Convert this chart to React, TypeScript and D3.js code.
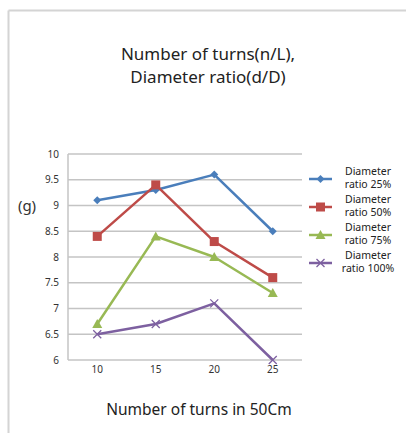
import React from "react";
import * as d3 from "d3";

const categories = ["10", "15", "20", "25"];
const seriesNames = [
  ["Diameter", "ratio 25%"],
  ["Diameter", "ratio 50%"],
  ["Diameter", "ratio 75%"],
  ["Diameter", "ratio 100%"],
];
const ratio25 = [9.1, 9.3, 9.6, 8.5];
const ratio50 = [8.4, 9.4, 8.3, 7.6];
const ratio75 = [6.7, 8.4, 8.0, 7.3];
const ratio100 = [6.5, 6.7, 7.1, 6.0];
const yTicks = [6, 6.5, 7, 7.5, 8, 8.5, 9, 9.5, 10];
const colors = ["#4A7EBB", "#BE4B48", "#98B954", "#7D60A0"];
const markers = ["diamond", "square", "triangle", "x"];

const FONT = "'Noto Sans', 'Open Sans', sans-serif";

function Marker({ type, x, y, color }: { type: string; x: number; y: number; color: string }) {
  if (type === "diamond") {
    const s = 4;
    return <path d={`M${x},${y - s}L${x + s},${y}L${x},${y + s}L${x - s},${y}Z`} fill={color} />;
  }
  if (type === "square") {
    const s = 4.5;
    return <rect x={x - s} y={y - s} width={2 * s} height={2 * s} fill={color} />;
  }
  if (type === "triangle") {
    const s = 5;
    return <path d={`M${x},${y - s}L${x + s},${y + s * 0.8}L${x - s},${y + s * 0.8}Z`} fill={color} />;
  }
  const s = 4;
  return (
    <path
      d={`M${x - s},${y - s}L${x + s},${y + s}M${x - s},${y + s}L${x + s},${y - s}`}
      stroke={color}
      strokeWidth={1.3}
    />
  );
}

export default function App() {
  const W = 406;
  const H = 433;
  const x = d3.scaleBand<string>().domain(categories).range([68, 302]);
  const y = d3.scaleLinear().domain([6, 10]).range([360, 154]);
  const series = [ratio25, ratio50, ratio75, ratio100];
  const line = d3
    .line<number>()
    .x((_, i) => (x(categories[i]) as number) + x.bandwidth() / 2)
    .y((d) => y(d));
  const legendY = [179, 207, 235, 263];

  return (
    <svg
      width={W}
      height={H}
      style={{ position: "absolute", left: 0, top: 0, background: "#fff" }}
      fontFamily={FONT}
    >
      <line x1={8.5} y1={10.5} x2={W} y2={10.5} stroke="#d4d4d4" strokeWidth={2} />
      <line x1={8.5} y1={10.5} x2={8.5} y2={H} stroke="#d4d4d4" strokeWidth={2} />

      <text x={208} y={60} textAnchor="middle" fontSize={17} fill="#222">
        Number of turns(n/L),
      </text>
      <text x={208} y={83} textAnchor="middle" fontSize={17} fill="#222">
        Diameter ratio(d/D)
      </text>

      {yTicks.map((t) => (
        <g key={t}>
          <line x1={68} x2={302} y1={y(t)} y2={y(t)} stroke="#c4c4c4" strokeWidth={1.5} />
          <text x={59} y={y(t) + 3.5} textAnchor="end" fontSize={10} fill="#333">
            {t}
          </text>
        </g>
      ))}
      <line x1={68} x2={68} y1={154} y2={360} stroke="#c4c4c4" strokeWidth={1.5} />

      {categories.map((c) => (
        <text
          key={c}
          x={(x(c) as number) + x.bandwidth() / 2}
          y={373}
          textAnchor="middle"
          fontSize={10}
          fill="#333"
        >
          {c}
        </text>
      ))}

      <text x={27} y={211} textAnchor="middle" fontSize={15} fill="#333">
        (g)
      </text>

      <text x={199} y={415} textAnchor="middle" fontSize={15.5} fill="#222">
        Number of turns in 50Cm
      </text>

      {series.map((s, i) => (
        <g key={i}>
          <path d={line(s) as string} fill="none" stroke={colors[i]} strokeWidth={2.5} strokeLinejoin="round" />
          {s.map((v, j) => (
            <Marker
              key={j}
              type={markers[i]}
              x={(x(categories[j]) as number) + x.bandwidth() / 2}
              y={y(v)}
              color={colors[i]}
            />
          ))}
        </g>
      ))}

      {seriesNames.map((n, i) => (
        <g key={i}>
          <line x1={309} x2={332} y1={legendY[i]} y2={legendY[i]} stroke={colors[i]} strokeWidth={2.5} />
          <Marker type={markers[i]} x={320.5} y={legendY[i]} color={colors[i]} />
          <text x={368} y={legendY[i] - 4} textAnchor="middle" fontSize={10.5} fill="#222">
            {n[0]}
          </text>
          <text x={368} y={legendY[i] + 9} textAnchor="middle" fontSize={10.5} fill="#222">
            {n[1]}
          </text>
        </g>
      ))}
    </svg>
  );
}
